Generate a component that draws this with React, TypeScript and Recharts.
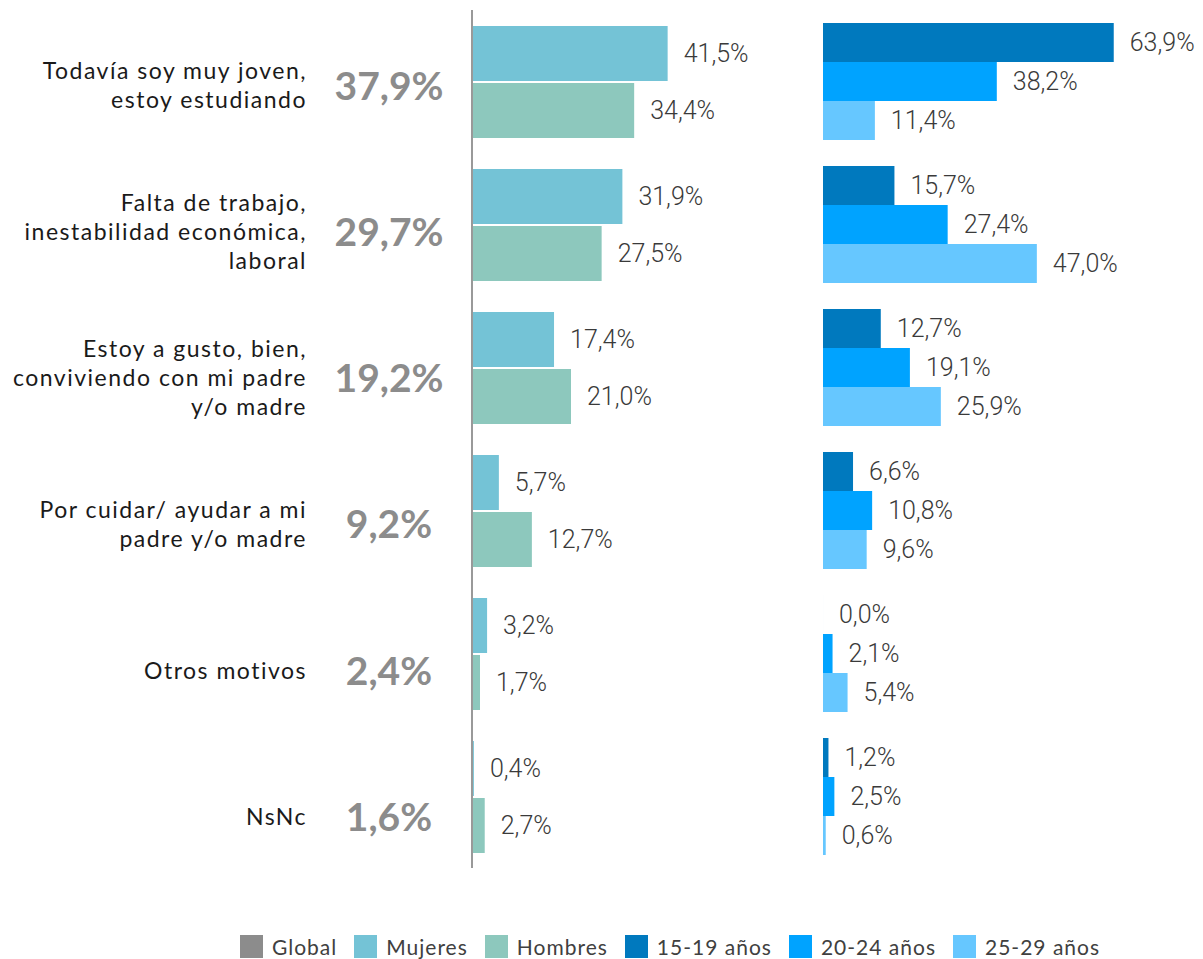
import React from "react";
import { BarChart, Bar, XAxis, YAxis, LabelList } from "recharts";

// categories (label lines) and series values
const categories = [
  ["Todavía soy muy joven,", "estoy estudiando"],
  ["Falta de trabajo,", "inestabilidad económica,", "laboral"],
  ["Estoy a gusto, bien,", "conviviendo con mi padre", "y/o madre"],
  ["Por cuidar/ ayudar a mi", "padre y/o madre"],
  ["Otros motivos"],
  ["NsNc"],
];
const globalVals = [37.9, 29.7, 19.2, 9.2, 2.4, 1.6];
const mujeres = [41.5, 31.9, 17.4, 5.7, 3.2, 0.4];
const hombres = [34.4, 27.5, 21.0, 12.7, 1.7, 2.7];
const age1519 = [63.9, 15.7, 12.7, 6.6, 0.0, 1.2];
const age2024 = [38.2, 27.4, 19.1, 10.8, 2.1, 2.5];
const age2529 = [11.4, 47.0, 25.9, 9.6, 5.4, 0.6];

const COLORS = {
  global: "#8c8c8c",
  mujeres: "#74c3d6",
  hombres: "#8dc8bd",
  a1519: "#0079be",
  a2024: "#00a3ff",
  a2529: "#66c7ff",
};

const legendItems = [
  { label: "Global", color: COLORS.global },
  { label: "Mujeres", color: COLORS.mujeres },
  { label: "Hombres", color: COLORS.hombres },
  { label: "15-19 años", color: COLORS.a1519 },
  { label: "20-24 años", color: COLORS.a2024 },
  { label: "25-29 años", color: COLORS.a2529 },
];

const data = categories.map((lines, i) => ({
  name: lines.join(" "),
  global: globalVals[i],
  mujeres: mujeres[i],
  hombres: hombres[i],
  a1519: age1519[i],
  a2024: age2024[i],
  a2529: age2529[i],
}));

const fmt = (v: any) => `${Number(v).toFixed(1).replace(".", ",")}%`;

const LABEL_FONT = "Roboto, 'DejaVu Sans Condensed', sans-serif";
const TEXT_FONT = "Lato, 'Open Sans', sans-serif";

function CategoryTick({ y, payload, index }: any) {
  const i = payload?.index ?? index ?? 0;
  const lines = categories[i];
  const lh = 29;
  const yc = y + 4 + i * 3.3;
  const y0 = yc - ((lines.length - 1) * lh) / 2;
  return (
    <g>
      {lines.map((ln, k) => (
        <text
          key={k}
          x={307}
          y={y0 + k * lh}
          dy="0.35em"
          textAnchor="end"
          fontFamily={TEXT_FONT}
          fontSize={23}
          letterSpacing={1.5}
          fill="#1a1a1a"
        >
          {ln}
        </text>
      ))}
      <text
        x={389}
        y={yc}
        dy="0.36em"
        textAnchor="middle"
        fontFamily={TEXT_FONT}
        fontWeight={700}
        fontSize={39}
        fill={COLORS.global}
      >
        {fmt(globalVals[i])}
      </text>
    </g>
  );
}

const labelStyle = { fontFamily: LABEL_FONT, fontSize: 25, fontWeight: 300, fill: "#3a3a3a" };

export default function App() {
  return (
    <div style={{ position: "absolute", left: 0, top: 0, width: 1203, height: 959, background: "#fff", overflow: "hidden" }}>
      <div style={{ position: "absolute", left: 0, top: 0 }}>
        <BarChart
          width={802}
          height={880}
          data={data}
          layout="vertical"
          margin={{ top: 10, right: 0, bottom: 12, left: 0 }}
          barGap={2}
          barSize={55}
        >
          <XAxis type="number" domain={[0, 70]} hide />
          <YAxis
            type="category"
            dataKey="name"
            width={472}
            axisLine={{ stroke: "#999", strokeWidth: 2 }}
            tickLine={false}
            tick={<CategoryTick />}
            interval={0}
          />
          <Bar dataKey="mujeres" fill={COLORS.mujeres} isAnimationActive={false}>
            <LabelList dataKey="mujeres" position="right" offset={16} formatter={fmt} style={labelStyle} />
          </Bar>
          <Bar dataKey="hombres" fill={COLORS.hombres} isAnimationActive={false}>
            <LabelList dataKey="hombres" position="right" offset={16} formatter={fmt} style={labelStyle} />
          </Bar>
        </BarChart>
      </div>
      <div style={{ position: "absolute", left: 802, top: 0 }}>
        <BarChart
          width={401}
          height={880}
          data={data}
          layout="vertical"
          margin={{ top: 10, right: 16, bottom: 12, left: 21 }}
          barGap={0}
          barSize={39}
        >
          <XAxis type="number" domain={[0, 80]} hide />
          <YAxis
            type="category"
            dataKey="name"
            width={0}
            axisLine={{ stroke: "#999", strokeWidth: 2 }}
            tickLine={false}
            tick={false}
          />
          <Bar dataKey="a1519" fill={COLORS.a1519} minPointSize={0.01} isAnimationActive={false}>
            <LabelList dataKey="a1519" position="right" offset={16} formatter={fmt} style={labelStyle} />
          </Bar>
          <Bar dataKey="a2024" fill={COLORS.a2024} isAnimationActive={false}>
            <LabelList dataKey="a2024" position="right" offset={16} formatter={fmt} style={labelStyle} />
          </Bar>
          <Bar dataKey="a2529" fill={COLORS.a2529} isAnimationActive={false}>
            <LabelList dataKey="a2529" position="right" offset={16} formatter={fmt} style={labelStyle} />
          </Bar>
        </BarChart>
      </div>
      {/* legend */}
      <div
        style={{
          position: "absolute",
          left: 240,
          top: 935,
          display: "flex",
          alignItems: "flex-start",
          fontFamily: TEXT_FONT,
          fontSize: 21,
          letterSpacing: 1,
          color: "#404040",
        }}
      >
        {legendItems.map(it => (
          <div key={it.label} style={{ display: "flex", alignItems: "flex-start", marginRight: 17 }}>
            <div style={{ width: 23, height: 23, background: it.color, marginRight: 9 }} />
            <span style={{ lineHeight: "23px" }}>{it.label}</span>
          </div>
        ))}
      </div>
    </div>
  );
}
